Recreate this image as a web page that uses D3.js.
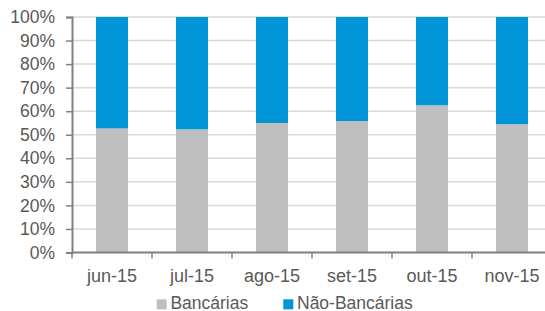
<!DOCTYPE html>
<html>
<head>
<meta charset="utf-8">
<script src="https://cdn.jsdelivr.net/npm/d3@7"></script>
<style>
body { margin: 0; background: #fff; }
text { font-family: "Liberation Sans", Arial, sans-serif; fill: #595959; }
</style>
</head>
<body>
<script>
var months = ["jun-15", "jul-15", "ago-15", "set-15", "out-15", "nov-15"];
var bancarias = [52.7, 52.3, 55.0, 55.8, 62.5, 54.5];
var naoBancarias = bancarias.map(function(v){ return 100 - v; });
var yTicks = [0, 10, 20, 30, 40, 50, 60, 70, 80, 90, 100];
var seriesNames = ["Bancárias", "Não-Bancárias"];
var colors = ["#bfbfbf", "#0095d6"];

var w = 545, h = 311;
var mLeft = 72, mRight = 552, mTop = 17, mBottom = 252.5;

var svg = d3.select("body").append("svg")
    .attr("width", w).attr("height", h);

var x = d3.scaleBand().domain(months).range([mLeft, mRight]).paddingInner(0.6).paddingOuter(0.3);
var y = d3.scaleLinear().domain([0, 100]).range([mBottom, mTop]);

// gridlines
svg.append("g").selectAll("line").data(yTicks.slice(1)).enter().append("line")
    .attr("x1", mLeft).attr("x2", mRight)
    .attr("y1", function(d){ return y(d); }).attr("y2", function(d){ return y(d); })
    .attr("stroke", "#d9d9d9").attr("stroke-width", 1.5);

var stacked = d3.stack().keys([0, 1])(months.map(function(m, i){ return [bancarias[i], naoBancarias[i]]; }));

svg.append("g").selectAll("g").data(stacked).enter().append("g")
    .attr("fill", function(d, i){ return colors[i]; })
  .selectAll("rect").data(function(d){ return d; }).enter().append("rect")
    .attr("x", function(d, i){ return x(months[i]); })
    .attr("width", x.bandwidth())
    .attr("y", function(d){ return y(d[1]); })
    .attr("height", function(d){ return y(d[0]) - y(d[1]); });

// y axis
var yAxis = svg.append("g").attr("transform", "translate(" + mLeft + ",0)")
    .call(d3.axisLeft(y).tickValues(yTicks).tickSize(6).tickPadding(11).tickFormat(function(d){ return d + "%"; }));
yAxis.select(".domain").attr("stroke", "#808080").attr("stroke-width", 2);
yAxis.selectAll(".tick line").attr("stroke", "#808080").attr("stroke-width", 1.5);
yAxis.selectAll("text").attr("font-size", "17.5px").attr("fill", "#595959")
    .attr("font-family", "Liberation Sans, Arial, sans-serif");

// x axis with ticks at band edges
var xAxis = svg.append("g").attr("transform", "translate(0," + mBottom + ")");
xAxis.append("line").attr("x1", mLeft).attr("x2", mRight).attr("stroke", "#808080").attr("stroke-width", 2);
var step = x.step();
xAxis.selectAll(".edge").data(months).enter().append("line")
    .attr("x1", function(d){ return x(d) + x.bandwidth() / 2 - step / 2; })
    .attr("x2", function(d){ return x(d) + x.bandwidth() / 2 - step / 2; })
    .attr("y1", 0).attr("y2", 6).attr("stroke", "#808080").attr("stroke-width", 1.5);
xAxis.selectAll("text").data(months).enter().append("text")
    .attr("x", function(d){ return x(d) + x.bandwidth() / 2; })
    .attr("y", 29.3)
    .attr("text-anchor", "middle")
    .attr("font-size", "18px")
    .text(function(d){ return d; });

// legend
var legendX = [156.7, 283.3];
var leg = svg.append("g").selectAll("g").data(seriesNames).enter().append("g")
    .attr("transform", function(d, i){ return "translate(" + legendX[i] + ",299.3)"; });
leg.append("rect").attr("width", 10).attr("height", 10).attr("fill", function(d, i){ return colors[i]; });
leg.append("text").attr("x", 13.7).attr("y", 9.7).attr("font-size", "17.5px").text(function(d){ return d; });
</script>
</body>
</html>
